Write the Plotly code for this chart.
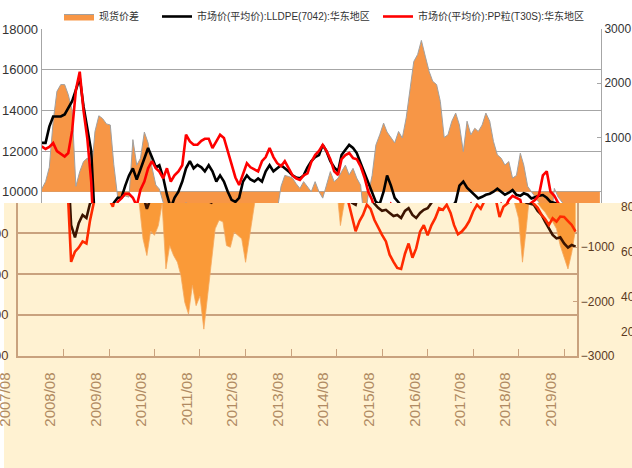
import plotly.graph_objects as go
import pandas as pd

# ---------------- data (monthly, from 2007/08) ----------------
start_month = "2007-08-01"
lldpe = [12400, 12400, 13200, 13700, 13700, 13700, 13800, 14100, 14450, 15000,
         15600, 14200, 13000, 12000, 8400, 7800, 8500, 8900, 8750, 9450,
         9700, 9700, 10300, 10800, 11150, 10600, 11100, 11600, 12150, 11700,
         11200, 11300, 10700, 9850, 9200, 9700, 10000, 10500, 11150, 11500,
         11150, 11320, 11200, 11000, 11300, 11000, 10500, 10800, 10500, 10000,
         9600, 9500, 9700, 10500, 10800, 10600, 10500, 10650, 10500, 11000,
         11300, 11000, 11150, 11300, 11150, 11000, 10800, 10700, 10660, 10800,
         11200, 11500, 11700, 11800, 12300, 11980, 11500, 11200, 11000, 11800,
         12060, 12300, 12150, 11900, 11400, 10900, 10400, 9900, 9500, 9400,
         10000, 10800, 10300, 9700, 9450, 9250, 9100, 9150, 9000, 8850,
         8900, 8750, 9100, 9230, 8900, 8750, 9000, 9150, 9230, 9500,
         10300, 10500, 10200, 10000, 9800, 9670, 9750, 9850, 9900, 10000,
         10150, 10000, 9850, 9950, 10080, 9850, 9800, 9920, 9850, 9670,
         9750, 9800, 9835, 9700, 9500, 9450, 9400, 9100, 8900, 8570,
         8250, 7920, 7750, 7800, 7500, 7300, 7430, 7340]
pp = [12230, 12100, 12200, 12390, 12000, 11850, 11730, 11900, 13000, 15000,
      15900, 14000, 12600, 10500, 6600, 7100, 7300, 7600, 7500, 8600,
      9500, 9670, 9900, 9900, 9700, 9300, 10100, 10500, 11150, 11500,
      11150, 10990, 10660, 11150, 10500, 10800, 11000, 11300, 12800, 12475,
      12310, 12310, 12500, 12600, 12600, 12150, 12475, 12800, 12640, 12000,
      11300, 10700, 10330, 10825, 11400, 11200, 11100, 11000, 11500, 11700,
      12150, 11700, 11400, 11250, 11500, 11150, 10800, 10660, 10580, 10800,
      10900, 11450, 11800, 12000, 12300, 12000, 11600, 11000, 10825, 11600,
      11800, 11900, 11650, 11600, 11250, 10700, 10000, 9600, 8900, 8100,
      8600, 8900, 9400, 9200, 8650, 8250, 7920, 7600, 6950, 6600,
      6300, 6250, 7000, 7500, 6800, 7260, 8080, 8400, 7900, 8400,
      8740, 9230, 9150, 9400, 9000, 8400, 7950, 8080, 8300, 8600,
      9070, 9400, 9200, 9600, 9800, 9700, 9600, 8800, 9300, 9450,
      9600, 9850, 10800, 11000, 10000, 9800, 9450, 9250, 8900, 8700,
      8410, 8740, 8570, 8820, 8800, 8600, 8410, 8080]
spread = [50, 185, 450, 1300, 1850, 1975, 1975, 1790, 1500, 100,
          370, 555, 620, 310, 1110, 1400, 1350, 1250, 1230, 500,
          -100, -120, -80, -100, 960, 490, 617, 1100, 900, 450,
          123, 50, -200, -845, -1153, -700, -780, -600, -200, -1400,
          -970, -1150, -1275, -1520, -2016, -2232, -1700, -2077, -1900, -2510,
          -1893, -1339, -660, -500, -530, -970, -1000, -720, -780, -845,
          -1277, -780, -350, 100, 300, 280, 250, 150, 60, 185,
          100, 0, 185, 0, -120, 120, 370, 185, 250, 370,
          490, 310, 430, 250, 120, -600, -50, 300, 860, 1050,
          1265, 1100, 990, 900, 1110, 990, 1360, 1850, 2400, 2530,
          2790, 2500, 2220, 2035, 1975, 1665, 1000, 1050, 1300, 1450,
          1230, 740, 1300, 1050, 1170, 1110, 1230, 1450, 1300, 925,
          680, 617, 490, 555, 250, 300, 710, 490, 100, 0,
          -100, -200, -470, -1275, -660, 60, -100, -200, -280, -350,
          -470, -530, -660, -970, -1200, -1400, -1100, -660]

tick_labels = ["2007/08", "2008/08", "2009/08", "2010/08", "2011/08", "2012/08",
               "2013/08", "2014/08", "2015/08", "2016/08", "2017/08", "2018/08",
               "2019/08"]
left_ticks_top = [10000, 12000, 14000, 16000, 18000]
right_ticks_top = [1000, 2000, 3000]
left_ticks_low = [2000, 4000, 6000, 8000]
right_ticks_low = [-3000, -2000, -1000]
edge_labels = ["80", "60", "40", "20"]

name_spread = "现货价差"
name_lldpe = "市场价(平均价):LLDPE(7042):华东地区"
name_pp = "市场价(平均价):PP粒(T30S):华东地区"

dates = pd.date_range(start_month, periods=len(lldpe), freq="MS")
tick_dates = pd.date_range(start_month, periods=len(tick_labels), freq="12MS")
x_range = ["2007-08-01", "2019-11-10"]

# ---------------- geometry helpers ----------------
W, H = 632, 468
def fx(px):
    return px / W
def fy(py):
    return 1 - py / H

FONT = "Liberation Sans Narrow, Liberation Sans, Arial, Noto Sans CJK SC, sans-serif"
GRAY = "#A6A6A6"
BROWN = "#C9A27E"
BEIGE = "#FFF2D2"

fig = go.Figure()

# ---- upper (white) copy ----
fig.add_trace(go.Scatter(x=dates, y=spread, xaxis="x", yaxis="y", mode="lines",
                         fill="tozeroy", fillcolor="#F79646",
                         line=dict(color="#A0A0A0", width=1),
                         name=name_spread, legend="legend"))
fig.add_trace(go.Scatter(x=dates, y=lldpe, xaxis="x", yaxis="y2", mode="lines",
                         line=dict(color="#000000", width=2.6),
                         name=name_lldpe, legend="legend2"))
fig.add_trace(go.Scatter(x=dates, y=pp, xaxis="x", yaxis="y2", mode="lines",
                         line=dict(color="#FF0000", width=2.6),
                         name=name_pp, legend="legend3"))

# ---- lower (beige, shifted) copy ----
fig.add_trace(go.Scatter(x=dates, y=spread, xaxis="x2", yaxis="y3", mode="lines",
                         fill="tozeroy", fillcolor="#FA9A38",
                         line=dict(color="#F4A860", width=0.8),
                         showlegend=False, hoverinfo="skip"))
fig.add_trace(go.Scatter(x=dates, y=lldpe, xaxis="x2", yaxis="y4", mode="lines",
                         line=dict(color="#3B1400", width=2.6),
                         showlegend=False, hoverinfo="skip"))
fig.add_trace(go.Scatter(x=dates, y=pp, xaxis="x2", yaxis="y4", mode="lines",
                         line=dict(color="#FF2A00", width=2.6),
                         showlegend=False, hoverinfo="skip"))

top_px, split_px, bottom_px = 29, 203, 355.7

fig.update_layout(
    width=W, height=H,
    margin=dict(l=0, r=0, t=0, b=0, autoexpand=False),
    paper_bgcolor="white",
    plot_bgcolor="rgba(0,0,0,0)",
    font=dict(family=FONT, color="#333333", size=12),
    # upper axes
    xaxis=dict(domain=[fx(41.7), fx(601)], range=x_range, type="date",
               anchor="y", showticklabels=False, showgrid=False,
               zeroline=False, showline=False, ticks=""),
    yaxis=dict(domain=[fy(split_px), fy(top_px)], range=[-209, 3000],
               side="right", anchor="x", tickvals=right_ticks_top,
               tickformat="d",
               showgrid=False, zeroline=False, showline=True,
               linecolor=GRAY, linewidth=1, ticks="inside", ticklen=4,
               tickcolor=GRAY, tickfont=dict(size=12, color="#333333")),
    yaxis2=dict(overlaying="y", side="left", anchor="x", range=[9444, 18000],
                tickvals=left_ticks_top, tickformat="d",
                showgrid=True, gridcolor=GRAY,
                gridwidth=1, zeroline=False, showline=True, linecolor=GRAY,
                ticks="", tickfont=dict(size=13, color="#333333")),
    # lower axes
    xaxis2=dict(domain=[fx(17.9), fx(576.7)], range=x_range, type="date",
                anchor="y3", tickvals=tick_dates, ticktext=tick_labels,
                tickangle=-90, ticks="inside", ticklen=7, tickcolor=BROWN,
                showline=True, linecolor=BROWN, linewidth=1.5,
                showgrid=False, zeroline=False, ticklabelshift=-13,
                ticklabelstandoff=9, ticklabeloverflow="allow",
                tickfont=dict(size=15, color="#B08A62")),
    yaxis3=dict(domain=[fy(bottom_px), fy(split_px)], range=[-3000, -184],
                side="right", anchor="x2", tickvals=right_ticks_low,
                tickformat="d",
                showgrid=False, zeroline=False, showline=True,
                linecolor=BROWN, linewidth=1.5, ticks="inside", ticklen=4,
                tickcolor=BROWN, tickfont=dict(size=12, color="#5C3A1E")),
    yaxis4=dict(overlaying="y3", side="left", anchor="x2", range=[2000, 9485],
                tickvals=left_ticks_low, tickformat="d",
                showgrid=True, gridcolor=BROWN,
                gridwidth=1.5, zeroline=False, showline=True, linecolor=BROWN,
                linewidth=1.5, ticks="", ticklabelstandoff=5,
                ticklabeloverflow="allow",
                tickfont=dict(size=13, color="#5C3A1E")),
    legend=dict(x=fx(59), y=fy(2), xanchor="left", yanchor="top",
                orientation="h", bgcolor="rgba(0,0,0,0)",
                font=dict(size=10, color="#333333", family=FONT)),
    legend2=dict(x=fx(157), y=fy(2), xanchor="left", yanchor="top",
                 orientation="h", bgcolor="rgba(0,0,0,0)",
                 font=dict(size=10, color="#333333", family=FONT)),
    legend3=dict(x=fx(378), y=fy(2), xanchor="left", yanchor="top",
                 orientation="h", bgcolor="rgba(0,0,0,0)",
                 font=dict(size=10, color="#333333", family=FONT)),
    shapes=[dict(type="rect", xref="paper", yref="paper",
                 x0=fx(4), x1=1, y0=0, y1=fy(split_px),
                 fillcolor=BEIGE, line=dict(width=0), layer="below")],
    showlegend=True,
)

edge_y = [207, 252, 297, 332]
for txt, py in zip(edge_labels, edge_y):
    fig.add_annotation(text=txt, xref="paper", yref="paper", x=fx(619), y=fy(py),
                       xanchor="left", yanchor="middle", showarrow=False,
                       font=dict(size=12, color="#5C3A1E"))

fig.write_html("out.html", config={"displayModeBar": False},
               post_script="document.body.style.margin='0';document.body.style.padding='0';")
